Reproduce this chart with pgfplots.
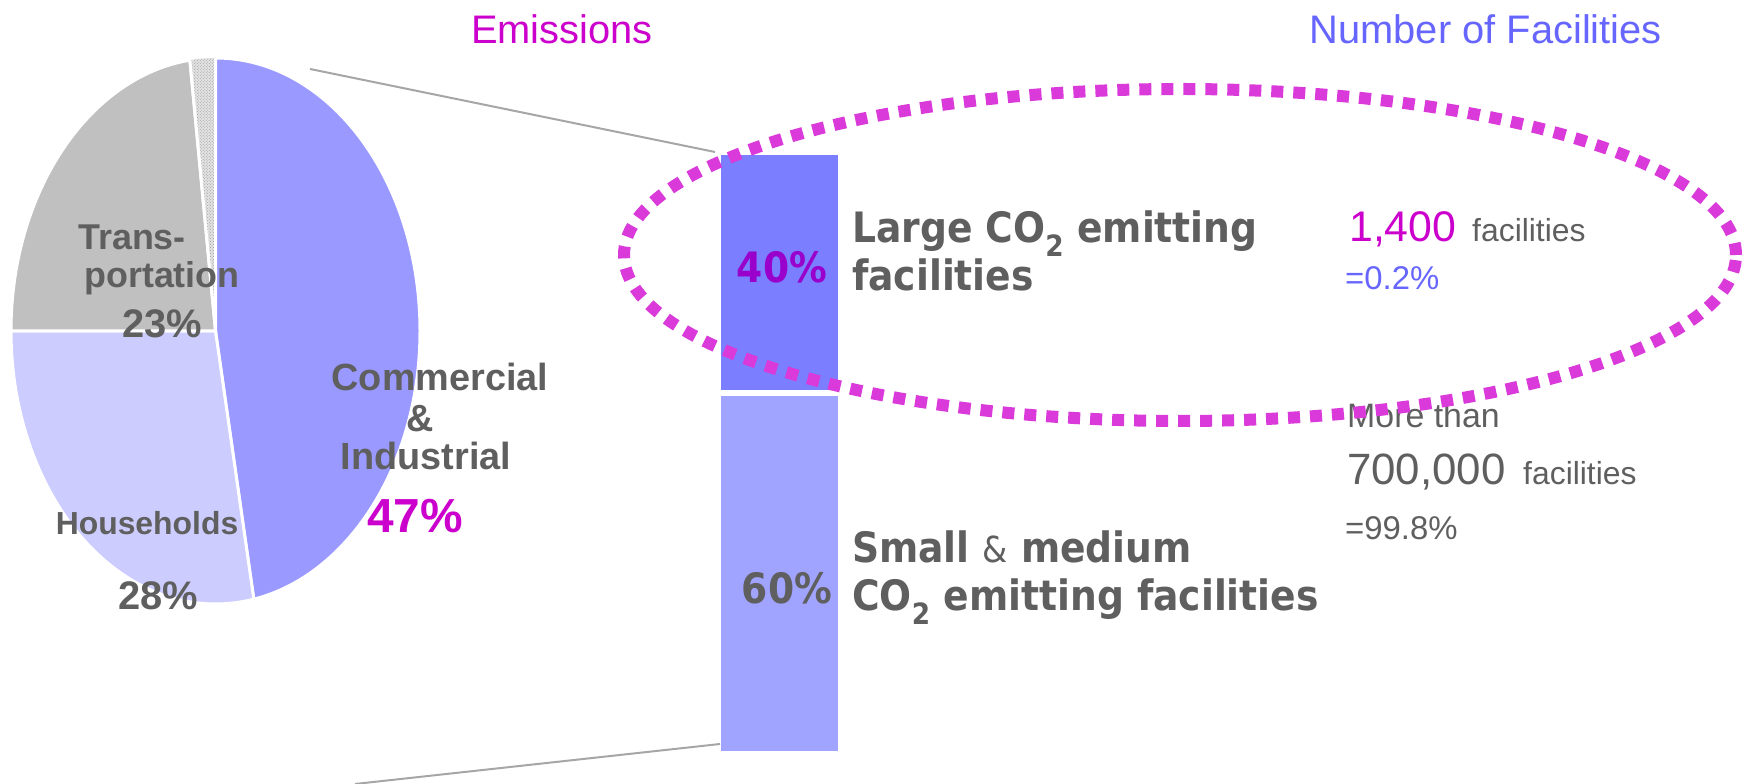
\documentclass[border=0pt]{standalone}
\usepackage{pgfplots}
\pgfplotsset{compat=1.18}
\usepackage{fontspec}
\usetikzlibrary{patterns}
\setmainfont{Liberation Sans}
\newfontfamily\cond{DejaVu Sans Condensed}

\definecolor{txtgray}{HTML}{5F5F5F}
\definecolor{mag}{HTML}{CC00CC}
\definecolor{purp}{HTML}{9900CC}
\definecolor{blu}{HTML}{6666FF}
\definecolor{pieCI}{HTML}{9999FF}
\definecolor{pieHH}{HTML}{CCCCFF}
\definecolor{pieTR}{HTML}{C0C0C0}
\definecolor{barTop}{HTML}{7A7EFF}
\definecolor{barBot}{HTML}{A0A4FF}
\definecolor{ell}{HTML}{D93AD9}
\definecolor{lin}{HTML}{A6A6A6}

\newcommand{\fs}[1]{\fontsize{#1}{#1}\selectfont}

\begin{document}
\begin{tikzpicture}
\useasboundingbox (0,0) rectangle (1747bp,784bp);

% shares of emissions (pie, %), clockwise from the top
\pgfmathsetmacro\aA{90}
\pgfmathsetmacro\aB{\aA-3.6*47}  % commercial & industrial
\pgfmathsetmacro\aC{\aB-3.6*28}  % households
\pgfmathsetmacro\aD{\aC-3.6*23}  % transportation
\pgfmathsetmacro\aE{\aD-3.6*2}   % other

% stacked bar: emission share by facility size
\begin{axis}[
  at={(718bp,30bp)}, anchor=south west,
  width=123bp, height=602bp, scale only axis,
  xmin=-0.5, xmax=0.5, ymin=0, ymax=100,
  enlargelimits=false, hide axis,
  ybar stacked, bar width=123bp,
]
\addplot[fill=barBot, draw=white, line width=6bp] coordinates {(0,60)};
\addplot[fill=barTop, draw=white, line width=6bp] coordinates {(0,40)};
\end{axis}

\begin{axis}[
  at={(0,0)}, anchor=south west,
  width=1747bp, height=784bp, scale only axis,
  xmin=0, xmax=1747, ymin=0, ymax=784,
  enlargelimits=false, hide axis, clip=false,
]
% pie
\def\cx{215.5}\def\cy{453}\def\rx{204.5}\def\ry{273}
\fill[pieCI, draw=white, line width=3bp] (\cx,\cy) -- ({\cx+\rx*cos(\aA)},{\cy+\ry*sin(\aA)})
  arc[start angle=\aA, end angle=\aB, x radius=204.5bp, y radius=273bp] -- cycle;
\fill[pieHH, draw=white, line width=3bp] (\cx,\cy) -- ({\cx+\rx*cos(\aB)},{\cy+\ry*sin(\aB)})
  arc[start angle=\aB, end angle=\aC, x radius=204.5bp, y radius=273bp] -- cycle;
\fill[pieTR, draw=white, line width=3bp] (\cx,\cy) -- ({\cx+\rx*cos(\aC)},{\cy+\ry*sin(\aC)})
  arc[start angle=\aC, end angle=\aD, x radius=204.5bp, y radius=273bp] -- cycle;
\path[fill=gray!22, postaction={pattern=crosshatch dots, pattern color=gray!80}]
  (\cx,\cy) -- ({\cx+\rx*cos(\aD)},{\cy+\ry*sin(\aD)})
  arc[start angle=\aD, end angle=\aE, x radius=204.5bp, y radius=273bp] -- cycle;
\draw[white, line width=3bp] (\cx,\cy) -- ({\cx+\rx*cos(\aD)},{\cy+\ry*sin(\aD)});
\draw[white, line width=3bp] (\cx,\cy) -- ({\cx+\rx*cos(\aE)},{\cy+\ry*sin(\aE)});

% connector lines
\addplot[lin, line width=2bp] coordinates {(310,715) (715,632)};
\addplot[lin, line width=2bp] coordinates {(355,0) (720,40)};

% titles
\node[anchor=base, inner sep=0, mag] at (562,740) {\fs{40}Emissions};
\node[anchor=base east, inner sep=0, blu] at (1662,740) {\fs{40}Number of Facilities};

% pie labels
\begin{scope}[every node/.style={anchor=base, inner sep=0, text=txtgray, font=\bfseries}]
\node at (132,534) {\fs{36}Trans-};
\node at (162,496) {\fs{36}portation};
\node at (162,446) {\fs{40}23\%};
\node at (440,393) {\fs{38}Commercial};
\node at (420,352) {\fs{38}\&};
\node at (426,314) {\fs{38}Industrial};
\node[text=mag] at (415,251) {\fs{48}47\%};
\node at (147,249) {\fs{32}Households};
\node at (158,174) {\fs{40}28\%};
\end{scope}

% bar labels
\begin{scope}[every node/.style={inner sep=0, text=txtgray, font=\cond\bfseries}]
\node[anchor=base, text=purp] at (782,501) {\fs{42}40\%};
\node[anchor=base] at (787,180) {\fs{42}60\%};
\node[anchor=base west] at (852,541) {\fs{42}Large CO\textsubscript{2} emitting};
\node[anchor=base west] at (852,493) {\fs{42}facilities};
\node[anchor=base west] at (852,221) {\fs{42}Small {\mdseries\fs{36}\&} medium};
\node[anchor=base west] at (852,173) {\fs{42}CO\textsubscript{2} emitting facilities};
\end{scope}

% facility counts
\begin{scope}[every node/.style={anchor=base west, inner sep=0, text=txtgray}]
\node[text=mag] at (1349,542) {\fs{43}1,400};
\node at (1472,542) {\fs{32}facilities};
\node[text=blu] at (1345,494) {\fs{33}=0.2\%};
\node at (1347,356) {\fs{34}More than};
\node at (1347,299) {\fs{44}700,000};
\node at (1523,299) {\fs{32}facilities};
\node at (1345,244) {\fs{33}=99.8\%};
\end{scope}

% highlight
\draw[ell, line width=12bp, dash pattern=on 12bp off 10bp] (1180,529) ellipse [x radius=556bp, y radius=166bp];
\end{axis}
\end{tikzpicture}
\end{document}
